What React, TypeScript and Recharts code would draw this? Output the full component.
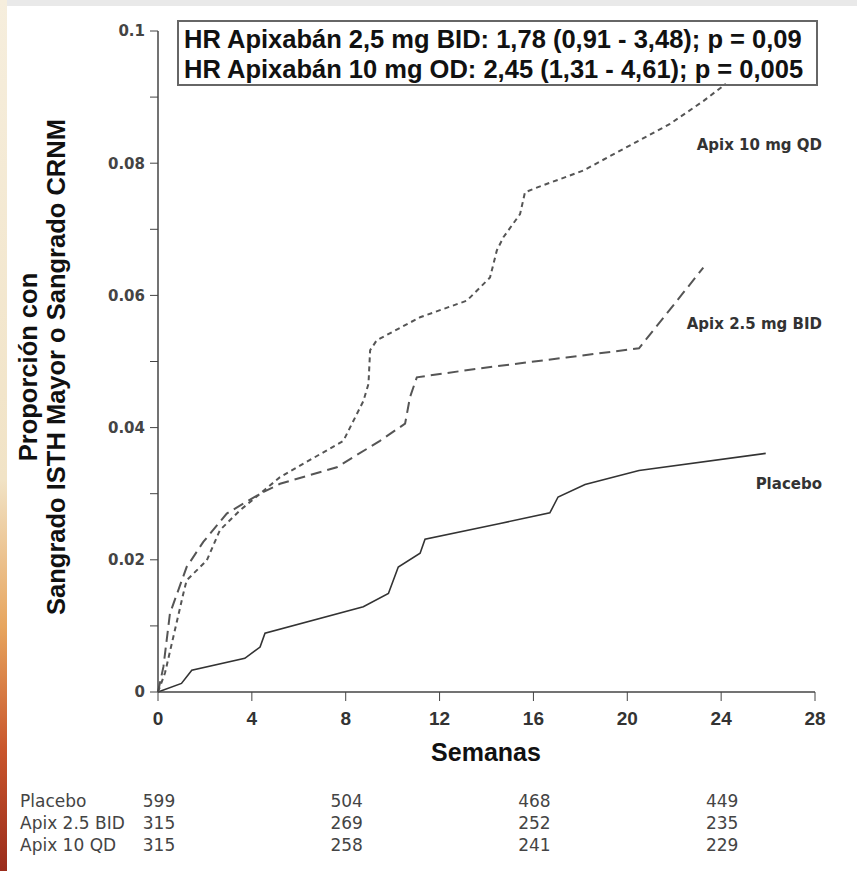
import React from "react";
import { LineChart, Line, XAxis, YAxis } from "recharts";

// Kaplan-Meier style cumulative curves (weeks, proportion)
const placeboWeeks = [0, 1.0, 1.44, 3.7, 4.35, 4.56, 8.75, 9.82, 10.24, 11.17, 11.38, 14.58, 16.7, 17.05, 18.2, 20.5, 25.9];
const placeboValues = [0, 0.0013, 0.0033, 0.0051, 0.0068, 0.0089, 0.0129, 0.0149, 0.0189, 0.021, 0.0231, 0.0255, 0.0271, 0.0295, 0.0314, 0.0335, 0.0361];

const bidWeeks = [0, 0.23, 0.51, 1.22, 1.93, 2.93, 4.35, 5.2, 7.62, 9.46, 10.53, 10.74, 11.03, 13.58, 17.4, 20.5, 23.24];
const bidValues = [0, 0.0038, 0.0119, 0.0189, 0.0227, 0.027, 0.03, 0.0315, 0.034, 0.038, 0.0406, 0.0446, 0.0476, 0.0489, 0.0506, 0.052, 0.0642];

const qdWeeks = [0, 0.3, 1.08, 1.22, 2.08, 2.64, 3.5, 4.35, 5.2, 7.9, 8.75, 8.97, 9.04, 9.32, 11.17, 13.16, 14.15, 14.44, 14.72, 15.43, 15.64, 16.14, 18.13, 19.7, 21.8, 23.24, 24.2];
const qdValues = [0, 0.0029, 0.0149, 0.0169, 0.0199, 0.0245, 0.0275, 0.03, 0.0325, 0.038, 0.044, 0.0466, 0.0517, 0.0532, 0.0567, 0.0592, 0.0627, 0.0668, 0.0688, 0.0723, 0.0756, 0.0763, 0.0789, 0.0819, 0.0859, 0.0894, 0.092];

const xTicks = [0, 4, 8, 12, 16, 20, 24, 28];
const yTicks = [0, 0.01, 0.02, 0.03, 0.04, 0.05, 0.06, 0.07, 0.08, 0.09, 0.1];
const yTickLabels: Record<string, string> = { "0": "0", "0.02": "0.02", "0.04": "0.04", "0.06": "0.06", "0.08": "0.08", "0.1": "0.1" };

// number at risk
const riskWeeks = [0, 8, 16, 24];
const riskRows = [
  { name: "Placebo", counts: [599, 504, 468, 449] },
  { name: "Apix 2.5 BID", counts: [315, 269, 252, 235] },
  { name: "Apix 10 QD", counts: [315, 258, 241, 229] },
];

const hrLines = [
  "HR Apixabán 2,5 mg BID: 1,78 (0,91 - 3,48); p = 0,09",
  "HR Apixabán 10 mg OD: 2,45 (1,31 - 4,61); p = 0,005",
];

const zip = (w: number[], v: number[]) => w.map((x, i) => ({ w: x, v: v[i] }));
const placeboData = zip(placeboWeeks, placeboValues);
const bidData = zip(bidWeeks, bidValues);
const qdData = zip(qdWeeks, qdValues);

const W = 857;
const H = 871;
const PLOT_LEFT = 158;
const PLOT_RIGHT = 815;
const weekToPx = (w: number) => PLOT_LEFT + (w / 28) * (PLOT_RIGHT - PLOT_LEFT);

const curveLabel: React.CSSProperties = {
  position: "absolute",
  right: W - 822,
  fontFamily: "'DejaVu Sans', sans-serif",
  fontWeight: 700,
  fontSize: 15,
  color: "#333",
  lineHeight: "18px",
  whiteSpace: "nowrap",
};

export default function App() {
  return (
    <div style={{ position: "absolute", left: 0, top: 0, width: W, height: H, background: "#fff", overflow: "hidden" }}>
      {/* scan edges */}
      <div style={{ position: "absolute", left: 0, top: 0, width: W, height: 6, background: "#e9e9e9" }} />
      <div
        style={{
          position: "absolute", left: 0, top: 0, width: 7, height: H,
          background: "linear-gradient(to bottom, #f6eedd 0%, #f1e3c6 55%, #e7a55e 72%, #c9562c 86%, #9a2c1c 100%)",
        }}
      />

      <LineChart width={W} height={H} data={placeboData} margin={{ top: 31, right: W - PLOT_RIGHT, bottom: 139, left: 0 }}>
        <XAxis
          type="number"
          dataKey="w"
          domain={[0, 28]}
          ticks={xTicks}
          height={40}
          axisLine={{ stroke: "#444", strokeWidth: 1.5 }}
          tickLine={{ stroke: "#444" }}
          tickSize={9}
          tickMargin={11}
          tick={{ fill: "#333", fontSize: 19, fontWeight: 700, fontFamily: "'Liberation Sans', Arial, sans-serif" }}
        />
        <YAxis
          type="number"
          domain={[0, 0.1]}
          ticks={yTicks}
          width={PLOT_LEFT}
          interval={0}
          axisLine={{ stroke: "#444", strokeWidth: 1.5 }}
          tickLine={{ stroke: "#444" }}
          tickSize={8}
          tickMargin={5}
          tickFormatter={(v: number) => yTickLabels[String(Math.round(v * 100) / 100)] ?? ""}
          tick={{ fill: "#444", fontSize: 15, fontWeight: 700, fontFamily: "'DejaVu Sans', sans-serif" }}
        />
        <Line data={placeboData} dataKey="v" type="linear" stroke="#333" strokeWidth={1.6} dot={false} isAnimationActive={false} />
        <Line data={bidData} dataKey="v" type="linear" stroke="#555" strokeWidth={2} strokeDasharray="11 6" dot={false} isAnimationActive={false} />
        <Line data={qdData} dataKey="v" type="linear" stroke="#555" strokeWidth={2} strokeDasharray="5 4" dot={false} isAnimationActive={false} />
      </LineChart>

      {/* HR box */}
      <div
        style={{
          position: "absolute", left: 177, top: 20, width: 632, height: 60,
          border: "2px solid #666", padding: "2px 0 0 5px",
          fontFamily: "'Liberation Sans', Arial, sans-serif", fontWeight: 700, fontSize: 25.5,
          lineHeight: "30px", color: "#111", whiteSpace: "nowrap", boxSizing: "content-box",
        }}
      >
        {hrLines.map((l) => (
          <div key={l}>{l}</div>
        ))}
      </div>

      {/* Y axis title */}
      <div
        style={{
          position: "absolute", left: 44 - 260, top: 367 - 30, width: 520, height: 60,
          transform: "rotate(-90deg)", textAlign: "center",
          fontFamily: "'Liberation Sans', Arial, sans-serif", fontWeight: 700, fontSize: 25.5,
          lineHeight: "28px", color: "#111",
        }}
      >
        <div>Proporción con</div>
        <div>Sangrado ISTH Mayor o Sangrado CRNM</div>
      </div>

      {/* X axis title */}
      <div
        style={{
          position: "absolute", left: 386, top: 737, width: 200, textAlign: "center",
          fontFamily: "'Liberation Sans', Arial, sans-serif", fontWeight: 700, fontSize: 25,
          lineHeight: "30px", color: "#111",
        }}
      >
        Semanas
      </div>

      {/* curve labels */}
      <div style={{ ...curveLabel, top: 136 }}>Apix 10 mg QD</div>
      <div style={{ ...curveLabel, top: 315 }}>Apix 2.5 mg BID</div>
      <div style={{ ...curveLabel, top: 475 }}>Placebo</div>

      {/* number at risk */}
      {riskRows.map((row, r) => (
        <React.Fragment key={row.name}>
          <div
            style={{
              position: "absolute", left: 20, top: 790 + r * 22,
              fontFamily: "'DejaVu Sans', sans-serif", fontSize: 17, lineHeight: "22px", color: "#444", whiteSpace: "nowrap",
            }}
          >
            {row.name}
          </div>
          {row.counts.map((c, i) => (
            <div
              key={i}
              style={{
                position: "absolute", left: weekToPx(riskWeeks[i]) - 30 + 1, top: 790 + r * 22, width: 60, textAlign: "center",
                fontFamily: "'DejaVu Sans', sans-serif", fontSize: 17, lineHeight: "22px", color: "#444",
              }}
            >
              {c}
            </div>
          ))}
        </React.Fragment>
      ))}
    </div>
  );
}
